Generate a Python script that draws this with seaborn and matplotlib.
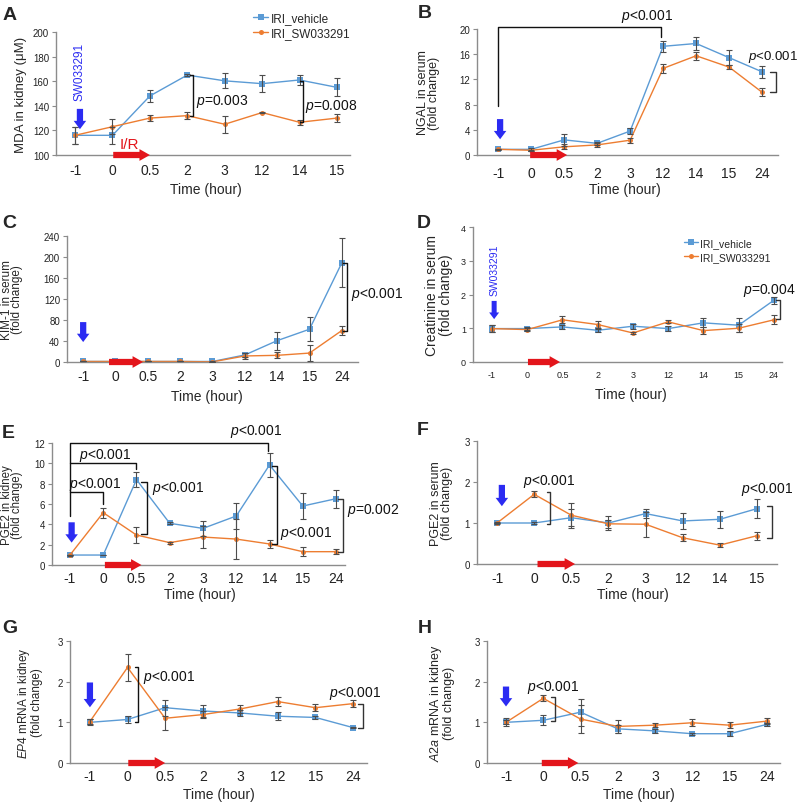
import numpy as np
import seaborn as sns
import matplotlib
matplotlib.use('Agg')
import matplotlib.pyplot as plt

BLUE = '#5B9BD5'
ORANGE = '#ED7D31'
ERR = '#4D4D4D'
ARROW_BLUE = '#2B2BF2'
ARROW_RED = '#E3151B'
SPINE = '#8C8C8C'

# time points (x categories)
TIMES_A = ['-1', '0', '0.5', '2', '3', '12', '14', '15']
TIMES_B = ['-1', '0', '0.5', '2', '3', '12', '14', '15', '24']
TIMES_F = ['-1', '0', '0.5', '2', '3', '12', '14', '15']
TIMES_G = ['-1', '0', '0.5', '2', '3', '12', '15', '24']

# A - MDA in kidney
MDA_VEH = [116, 116, 148, 165, 160.3, 158, 161, 155]
MDA_VEH_ERR = [7, 7, 5, 1, 6.2, 7, 4, 7.3]
MDA_SW = [116, 123, 130, 132, 125, 134.5, 126.6, 130]
MDA_SW_ERR = [7, 6, 2.5, 3, 7, 0.5, 2, 3]

# B - NGAL in serum
NGAL_VEH = [0.9, 0.9, 2.4, 1.85, 3.8, 17.25, 17.7, 15.45, 13.2]
NGAL_VEH_ERR = [0.1, 0.2, 1.0, 0.2, 0.5, 0.9, 1.1, 1.2, 0.9]
NGAL_SW = [0.9, 0.75, 1.3, 1.6, 2.35, 13.75, 15.75, 13.95, 9.95]
NGAL_SW_ERR = [0.1, 0.1, 0.4, 0.3, 0.4, 0.7, 0.65, 0.3, 0.65]

# C - KIM-1 in serum
KIM_VEH = [1, 1, 1, 1, 1, 13.4, 40.7, 62.4, 189]
KIM_VEH_ERR = [0, 0, 0, 0, 1, 3, 17, 23, 47]
KIM_SW = [1, 1, 1, 1, 0.3, 11.5, 12.7, 17, 60]
KIM_SW_ERR = [0, 0, 0, 0, 0, 6, 6, 15, 8.6]

# D - creatinine in serum
CREA_VEH = [0.99, 0.99, 1.04, 0.94, 1.06, 0.99, 1.16, 1.09, 1.83]
CREA_VEH_ERR = [0.1, 0.04, 0.06, 0.05, 0.07, 0.07, 0.13, 0.2, 0.1]
CREA_SW = [0.99, 0.96, 1.25, 1.11, 0.86, 1.19, 0.93, 1.0, 1.25]
CREA_SW_ERR = [0.1, 0.04, 0.1, 0.11, 0.04, 0.04, 0.1, 0.12, 0.13]

# E - PGE2 in kidney
PGEK_VEH = [0.98, 0.98, 8.4, 4.1, 3.6, 4.82, 9.84, 5.8, 6.52]
PGEK_VEH_ERR = [0, 0, 0.7, 0.1, 0.7, 1.3, 1.2, 1.3, 0.9]
PGEK_SW = [0.98, 5.15, 2.95, 2.2, 2.75, 2.55, 2.07, 1.31, 1.31]
PGEK_SW_ERR = [0.05, 0.5, 0.8, 0.1, 1.05, 1.95, 0.35, 0.45, 0.25]

# F - PGE2 in serum
PGES_VEH = [1.0, 1.0, 1.13, 1.0, 1.23, 1.05, 1.09, 1.35]
PGES_VEH_ERR = [0, 0.02, 0.2, 0.17, 0.12, 0.2, 0.2, 0.23]
PGES_SW = [1.0, 1.7, 1.19, 0.98, 0.97, 0.64, 0.46, 0.69]
PGES_SW_ERR = [0.02, 0.07, 0.3, 0.1, 0.3, 0.08, 0.05, 0.1]

# G - EP4 mRNA
EP4_VEH = [1.0, 1.07, 1.36, 1.28, 1.23, 1.15, 1.12, 0.87]
EP4_VEH_ERR = [0.07, 0.08, 0.2, 0.15, 0.07, 0.1, 0.03, 0.02]
EP4_SW = [1.02, 2.35, 1.1, 1.19, 1.33, 1.51, 1.36, 1.46]
EP4_SW_ERR = [0.07, 0.33, 0.28, 0.08, 0.1, 0.12, 0.08, 0.09]

# H - A2a mRNA
A2A_VEH = [1.0, 1.05, 1.25, 0.84, 0.79, 0.72, 0.72, 0.95]
A2A_VEH_ERR = [0.1, 0.12, 0.33, 0.1, 0.05, 0.02, 0.06, 0.04]
A2A_SW = [1.0, 1.59, 1.08, 0.9, 0.93, 0.99, 0.93, 1.03]
A2A_SW_ERR = [0.05, 0.07, 0.35, 0.16, 0.05, 0.09, 0.08, 0.08]

sns.set_style('ticks')
plt.rcParams['font.family'] = ['Liberation Sans', 'DejaVu Sans']
plt.rcParams['mathtext.fontset'] = 'custom'
plt.rcParams['mathtext.it'] = 'Liberation Sans:italic'
plt.rcParams['mathtext.rm'] = 'Liberation Sans'

W, H = 800, 803
fig = plt.figure(figsize=(W / 100, H / 100), dpi=100)


def panel(box, times, veh, veh_err, sw, sw_err, ylim, ystep, ylabel, xpad_l, xpad_r,
          ylab_px, xlab_top, xlab_x, xfs=10, yfs=7, tpad=5, ylfs=9, ylsp=0.85):
    l, t, r, b = box
    ax = fig.add_axes([l / W, 1 - b / H, (r - l) / W, (b - t) / H])
    pos = np.arange(len(times))
    sns.lineplot(x=pos, y=veh, ax=ax, color=BLUE, marker='s', markersize=4.2,
                 markeredgewidth=0, linewidth=1, label='IRI_vehicle')
    sns.lineplot(x=pos, y=sw, ax=ax, color=ORANGE, marker='o', markersize=3.6,
                 markeredgewidth=0, linewidth=1, label='IRI_SW033291')
    ax.errorbar(pos, veh, yerr=veh_err, fmt='none', ecolor=ERR, elinewidth=0.8,
                capsize=2, capthick=0.8, zorder=3)
    ax.errorbar(pos, sw, yerr=sw_err, fmt='none', ecolor=ERR, elinewidth=0.8,
                capsize=2, capthick=0.8, zorder=3)
    if ax.get_legend():
        ax.get_legend().remove()
    ax.set_xticks(pos, times)
    ax.set_yticks(np.arange(ylim[0], ylim[1] + ystep / 2, ystep))
    ax.set_xlim(-xpad_l, len(times) - 1 + xpad_r)
    ax.set_ylim(*ylim)
    sns.despine(ax=ax)
    for s in ['left', 'bottom']:
        ax.spines[s].set_color(SPINE)
        ax.spines[s].set_linewidth(1)
    ax.tick_params(axis='x', length=0, labelsize=xfs, pad=tpad, labelcolor='#222222')
    ax.tick_params(axis='y', length=3, width=0.8, color=SPINE, labelsize=yfs,
                   pad=2, labelcolor='#222222')
    ax.set_xlabel('Time (hour)', fontsize=10)
    ax.set_ylabel(ylabel, fontsize=ylfs, linespacing=ylsp)
    ax.yaxis.set_label_coords((ylab_px - l) / (r - l), 0.5)
    ax.xaxis.set_label_coords(xlab_x, (b - xlab_top) / (b - t))
    return ax


def down_arrow(ax, x, y0, y1, scale=10):
    ax.annotate('', xy=(x, y1), xytext=(x, y0), annotation_clip=False,
                arrowprops=dict(arrowstyle='simple,head_length=0.6,head_width=0.9,tail_width=0.45',
                                mutation_scale=scale, color=ARROW_BLUE, lw=0,
                                shrinkA=0, shrinkB=0), zorder=6)


def red_arrow(ax, x0, x1, y):
    ax.annotate('', xy=(x1, y), xytext=(x0, y), annotation_clip=False,
                arrowprops=dict(arrowstyle='simple,head_length=0.75,head_width=0.85,tail_width=0.45',
                                mutation_scale=10, color=ARROW_RED, lw=0,
                                shrinkA=0, shrinkB=0), zorder=6)


def rbracket(ax, x, y_top, y_bot, tick, color='#111111'):
    ax.plot([x - tick, x, x, x - tick], [y_top, y_top, y_bot, y_bot], color=color,
            lw=1, clip_on=False, zorder=5)


def tbracket(ax, xs, ys):
    ax.plot(xs, ys, color='#111111', lw=1, clip_on=False, zorder=5)


def ptext(ax, x, y, s, ha='left', fs=10):
    ax.text(x, y, s, ha=ha, va='center', fontsize=fs, color='#111111')


# ---- A
ax = panel((56, 33, 350, 156), TIMES_A, MDA_VEH, MDA_VEH_ERR, MDA_SW, MDA_SW_ERR,
           (100, 200), 20, 'MDA in kidney (\u03bcM)', 0.51, 0.35, 27, 183, 0.51, tpad=6, ylfs=9.5)
ax.text(0.13, 168, 'SW033291', rotation=90, color=ARROW_BLUE, fontsize=8.5, ha='center', va='center')
down_arrow(ax, 0.13, 137.5, 121)
ax.text(1.44, 109, 'I/R', color=ARROW_RED, fontsize=11, ha='center', va='center')
red_arrow(ax, 1.02, 2.0, 100)
rbracket(ax, 3.16, 165, 132, 0.1)
ptext(ax, 3.24, 144, '$\\it{p}$=0.003')
rbracket(ax, 6.1, 160.5, 127, 0.1)
ptext(ax, 6.15, 140, '$\\it{p}$=0.008')
h, lb = ax.get_legend_handles_labels()
fig.legend(h, lb, loc='upper left', bbox_to_anchor=(253 / W, 1 - 13 / H), frameon=False,
           fontsize=8.5, handlelength=1.3, handletextpad=0.2, labelspacing=0.3,
           borderpad=0, borderaxespad=0)

# ---- B
ax = panel((477, 30, 778, 156), TIMES_B, NGAL_VEH, NGAL_VEH_ERR, NGAL_SW, NGAL_SW_ERR,
           (0, 20), 4, 'NGAL in serum\n(fold change)', 0.64, 0.48, 440, 183, 0.49, tpad=8)
down_arrow(ax, 0.06, 5.7, 2.5)
red_arrow(ax, 0.97, 2.09, 0)
tbracket(ax, [0, 0, 4.93, 4.93], [7.8, 20.3, 20.3, 18.7])
ptext(ax, 4.5, 22.1, '$\\it{p}$<0.001', ha='center')
rbracket(ax, 8.42, 13.2, 9.95, 0.18, color='#333333')
ptext(ax, 9.1, 15.7, '$\\it{p}$<0.001', ha='right', fs=9.5)

# ---- C
ax = panel((67, 237, 358, 363), TIMES_B, KIM_VEH, KIM_VEH_ERR, KIM_SW, KIM_SW_ERR,
           (0, 240), 40, 'KIM-1 in serum\n(fold change)', 0.5, 0.5, 23, 390, 0.48, ylfs=8.5, ylsp=0.8)
down_arrow(ax, 0, 76, 38)
red_arrow(ax, 0.8, 1.85, 0)
rbracket(ax, 8.17, 189, 60, 0.12)
ptext(ax, 8.28, 131, '$\\it{p}$<0.001')

# ---- D
ax = panel((473, 228, 782, 363), TIMES_B, CREA_VEH, CREA_VEH_ERR, CREA_SW, CREA_SW_ERR,
           (0, 4), 1, 'Creatinine in serum\n(fold change)', 0.54, 0.23, 453, 388, 0.51,
           xfs=6.5, yfs=6.5, tpad=6, ylfs=10, ylsp=1.0)
ax.text(0.06, 2.76, 'SW033291', rotation=90, color=ARROW_BLUE, fontsize=7.5, ha='center', va='center')
down_arrow(ax, 0.06, 1.81, 1.27, scale=8)
red_arrow(ax, 1.02, 1.93, 0)
rbracket(ax, 8.17, 1.85, 1.27, 0.1, color='#333333')
ptext(ax, 7.12, 2.16, '$\\it{p}$=0.004')
h, lb = ax.get_legend_handles_labels()
fig.legend(h, lb, loc='upper left', bbox_to_anchor=(684 / W, 1 - 239 / H), frameon=False,
           fontsize=7.5, handlelength=1.3, handletextpad=0.2, labelspacing=0.35,
           borderpad=0, borderaxespad=0)

# ---- E
ax = panel((52, 444, 345, 566), TIMES_B, PGEK_VEH, PGEK_VEH_ERR, PGEK_SW, PGEK_SW_ERR,
           (0, 12), 2, 'PGE2 in kidney\n(fold change)', 0.54, 0.27, 23, 588, 0.505, tpad=4.5,
           ylfs=8.3, ylsp=0.8)
tbracket(ax, [0, 0, 5.95, 5.95], [4.8, 12, 12, 11.2])
ptext(ax, 5.6, 13.2, '$\\it{p}$<0.001', ha='center')
tbracket(ax, [0, 2.0, 2.0], [10.0, 10.0, 9.4])
ptext(ax, 1.05, 10.9, '$\\it{p}$<0.001', ha='center')
tbracket(ax, [0, 0.98, 0.98], [7.15, 7.15, 6.0])
ptext(ax, 0.75, 8.0, '$\\it{p}$<0.001', ha='center')
rbracket(ax, 2.32, 8.2, 3.05, 0.17)
ptext(ax, 2.46, 7.6, '$\\it{p}$<0.001')
rbracket(ax, 6.22, 9.7, 2.1, 0.15)
ptext(ax, 6.32, 3.2, '$\\it{p}$<0.001')
rbracket(ax, 8.22, 6.5, 1.3, 0.15, color='#333333')
ptext(ax, 8.32, 5.5, '$\\it{p}$=0.002')
down_arrow(ax, 0.05, 4.2, 2.2)
red_arrow(ax, 1.05, 2.15, 0)

# ---- F
ax = panel((477, 442, 777, 565), TIMES_F, PGES_VEH, PGES_VEH_ERR, PGES_SW, PGES_SW_ERR,
           (0, 3), 1, 'PGE2 in serum\n(fold change)', 0.54, 0.54, 453, 588, 0.52, tpad=5)
down_arrow(ax, 0.13, 1.93, 1.41)
red_arrow(ax, 1.09, 2.1, 0)
rbracket(ax, 1.43, 1.75, 0.97, 0.09, color='#333333')
ptext(ax, 1.4, 2.03, '$\\it{p}$<0.001', ha='center')
rbracket(ax, 7.4, 1.41, 0.63, 0.13, color='#333333')
ptext(ax, 7.27, 1.83, '$\\it{p}$<0.001', ha='center')

# ---- G
ax = panel((70, 642, 367, 764), TIMES_G, EP4_VEH, EP4_VEH_ERR, EP4_SW, EP4_SW_ERR,
           (0, 3), 1, '$\\it{EP4}$ mRNA in kidney\n(fold change)', 0.53, 0.37, 43, 788, 0.5,
           tpad=4.5, ylfs=8.5)
down_arrow(ax, 0, 1.98, 1.37)
red_arrow(ax, 1.02, 2.0, 0)
rbracket(ax, 1.29, 2.35, 1.0, 0.09)
ptext(ax, 1.42, 2.13, '$\\it{p}$<0.001')
rbracket(ax, 7.27, 1.46, 0.87, 0.13, color='#333333')
ptext(ax, 7.05, 1.74, '$\\it{p}$<0.001', ha='center')

# ---- H
ax = panel((487, 642, 780, 764), TIMES_G, A2A_VEH, A2A_VEH_ERR, A2A_SW, A2A_SW_ERR,
           (0, 3), 1, '$\\it{A2a}$ mRNA in kidney\n(fold change)', 0.51, 0.35, 455, 788, 0.52, tpad=4.5)
down_arrow(ax, 0, 1.88, 1.39)
red_arrow(ax, 0.96, 1.94, 0)
rbracket(ax, 1.31, 1.63, 1.04, 0.11, color='#333333')
ptext(ax, 1.27, 1.88, '$\\it{p}$<0.001', ha='center')

# panel letters
for letter, x, y in [('A', 3, 20), ('B', 418, 18), ('C', 2, 228), ('D', 417, 228),
                     ('E', 2, 438), ('F', 417, 435), ('G', 2, 633), ('H', 418, 633)]:
    fig.text(x / W, 1 - y / H, letter, fontsize=14, fontweight='bold', va='baseline', ha='left')

plt.savefig('out.png', dpi=100)
